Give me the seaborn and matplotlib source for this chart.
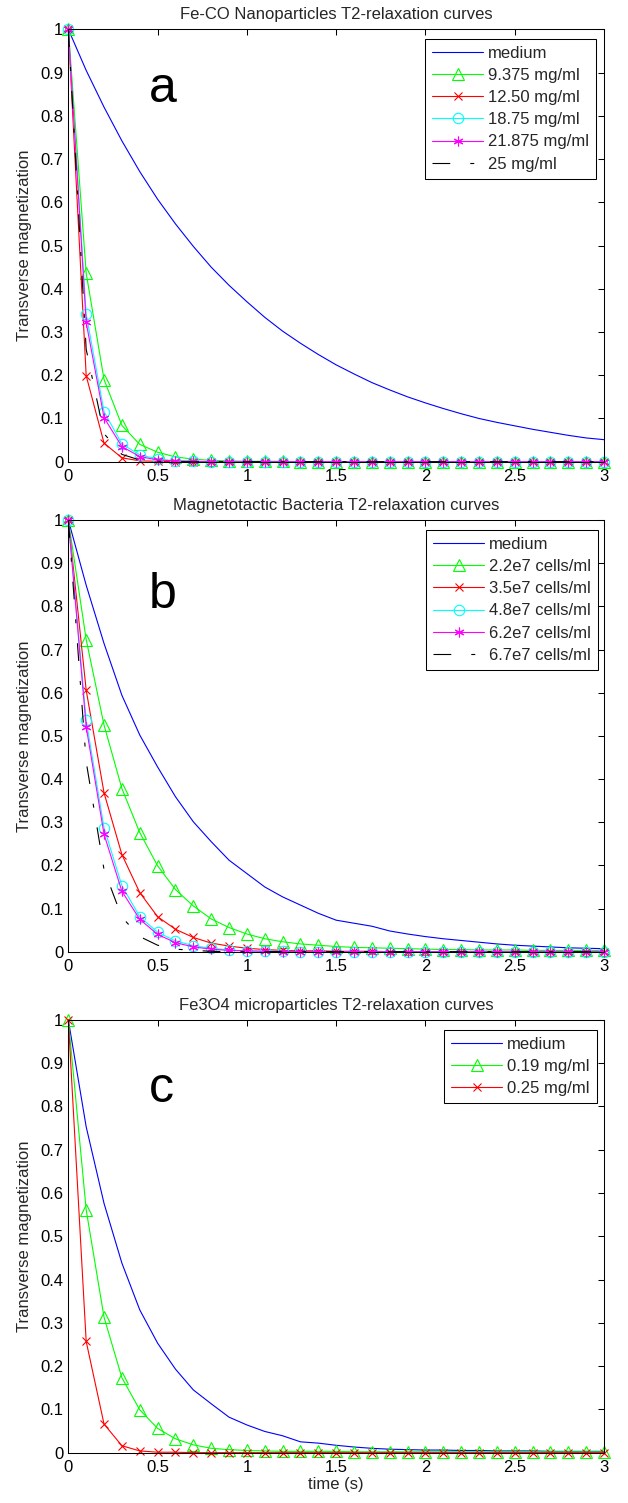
import numpy as np
import pandas as pd
import matplotlib
matplotlib.use("Agg")
import matplotlib.pyplot as plt
import seaborn as sns

# ---------------- data ----------------
time_s = [0.0, 0.1, 0.2, 0.3, 0.4, 0.5, 0.6, 0.7, 0.8, 0.9, 1.0,
          1.1, 1.2, 1.3, 1.4, 1.5, 1.6, 1.7, 1.8, 1.9, 2.0,
          2.1, 2.2, 2.3, 2.4, 2.5, 2.6, 2.7, 2.8, 2.9, 3.0]

# Panel a: Fe-CO nanoparticles
labels_a = ["medium", "9.375 mg/ml", "12.50 mg/ml", "18.75 mg/ml", "21.875 mg/ml", "25 mg/ml"]
medium_a = [1.000, 0.905, 0.820, 0.742, 0.671, 0.607, 0.550, 0.498, 0.450, 0.408, 0.370,
            0.334, 0.302, 0.274, 0.248, 0.224, 0.203, 0.183, 0.166, 0.150, 0.136,
            0.123, 0.111, 0.100, 0.091, 0.083, 0.075, 0.068, 0.061, 0.055, 0.051]
c9375_a = [1.000, 0.436, 0.190, 0.084, 0.040, 0.022, 0.011, 0.006, 0.003, 0.002, 0.001,
           0.001, 0.001, 0.000, 0.000, 0.000, 0.000, 0.000, 0.000, 0.000, 0.000,
           0.000, 0.000, 0.000, 0.000, 0.000, 0.000, 0.000, 0.000, 0.000, 0.000]
c1250_a = [1.000, 0.199, 0.043, 0.009, 0.002, 0.001, 0.000, 0.000, 0.000, 0.000, 0.000,
           0.000, 0.000, 0.000, 0.000, 0.000, 0.000, 0.000, 0.000, 0.000, 0.000,
           0.000, 0.000, 0.000, 0.000, 0.000, 0.000, 0.000, 0.000, 0.000, 0.000]
c1875_a = [1.000, 0.341, 0.116, 0.041, 0.016, 0.006, 0.002, 0.001, 0.000, 0.000, 0.000,
           0.000, 0.000, 0.000, 0.000, 0.000, 0.000, 0.000, 0.000, 0.000, 0.000,
           0.000, 0.000, 0.000, 0.000, 0.000, 0.000, 0.000, 0.000, 0.000, 0.000]
c21875_a = [1.000, 0.322, 0.102, 0.035, 0.012, 0.004, 0.002, 0.001, 0.000, 0.000, 0.000,
            0.000, 0.000, 0.000, 0.000, 0.000, 0.000, 0.000, 0.000, 0.000, 0.000,
            0.000, 0.000, 0.000, 0.000, 0.000, 0.000, 0.000, 0.000, 0.000, 0.000]
c25_a = [1.000, 0.260, 0.065, 0.017, 0.004, 0.001, 0.000, 0.000, 0.000, 0.000, 0.000,
         0.000, 0.000, 0.000, 0.000, 0.000, 0.000, 0.000, 0.000, 0.000, 0.000,
         0.000, 0.000, 0.000, 0.000, 0.000, 0.000, 0.000, 0.000, 0.000, 0.000]

# Panel b: magnetotactic bacteria
labels_b = ["medium", "2.2e7 cells/ml", "3.5e7 cells/ml", "4.8e7 cells/ml", "6.2e7 cells/ml", "6.7e7 cells/ml"]
medium_b = [1.000, 0.849, 0.714, 0.594, 0.502, 0.428, 0.359, 0.301, 0.255, 0.212, 0.181,
            0.150, 0.127, 0.108, 0.089, 0.073, 0.066, 0.059, 0.048, 0.041, 0.035,
            0.030, 0.026, 0.022, 0.018, 0.015, 0.013, 0.011, 0.009, 0.008, 0.007]
c22_b = [1.000, 0.723, 0.525, 0.378, 0.276, 0.199, 0.144, 0.106, 0.076, 0.056, 0.041,
         0.030, 0.023, 0.018, 0.015, 0.012, 0.010, 0.009, 0.008, 0.007, 0.006,
         0.005, 0.005, 0.004, 0.004, 0.004, 0.003, 0.003, 0.003, 0.003, 0.003]
c35_b = [1.000, 0.606, 0.368, 0.225, 0.137, 0.081, 0.052, 0.033, 0.020, 0.013, 0.008,
         0.005, 0.003, 0.002, 0.002, 0.001, 0.001, 0.001, 0.000, 0.000, 0.000,
         0.000, 0.000, 0.000, 0.000, 0.000, 0.000, 0.000, 0.000, 0.000, 0.000]
c48_b = [1.000, 0.536, 0.287, 0.153, 0.081, 0.045, 0.025, 0.014, 0.008, 0.004, 0.002,
         0.001, 0.001, 0.000, 0.000, 0.000, 0.000, 0.000, 0.000, 0.000, 0.000,
         0.000, 0.000, 0.000, 0.000, 0.000, 0.000, 0.000, 0.000, 0.000, 0.000]
c62_b = [1.000, 0.521, 0.272, 0.140, 0.075, 0.040, 0.021, 0.011, 0.006, 0.003, 0.002,
         0.001, 0.000, 0.000, 0.000, 0.000, 0.000, 0.000, 0.000, 0.000, 0.000,
         0.000, 0.000, 0.000, 0.000, 0.000, 0.000, 0.000, 0.000, 0.000, 0.000]
c67_b = [1.000, 0.440, 0.190, 0.080, 0.035, 0.015, 0.006, 0.003, 0.001, 0.000, 0.000,
         0.000, 0.000, 0.000, 0.000, 0.000, 0.000, 0.000, 0.000, 0.000, 0.000,
         0.000, 0.000, 0.000, 0.000, 0.000, 0.000, 0.000, 0.000, 0.000, 0.000]

# Panel c: Fe3O4 microparticles
labels_c = ["medium", "0.19 mg/ml", "0.25 mg/ml"]
medium_c = [1.000, 0.753, 0.576, 0.438, 0.330, 0.253, 0.193, 0.145, 0.113, 0.082, 0.064,
            0.049, 0.039, 0.025, 0.022, 0.017, 0.013, 0.010, 0.008, 0.007, 0.006,
            0.006, 0.005, 0.005, 0.004, 0.004, 0.004, 0.003, 0.003, 0.003, 0.003]
c019_c = [1.000, 0.561, 0.313, 0.173, 0.099, 0.056, 0.032, 0.018, 0.010, 0.007, 0.005,
          0.004, 0.003, 0.003, 0.003, 0.003, 0.002, 0.002, 0.002, 0.002, 0.002,
          0.002, 0.002, 0.002, 0.002, 0.002, 0.002, 0.002, 0.002, 0.002, 0.002]
c025_c = [1.000, 0.257, 0.066, 0.016, 0.004, 0.001, 0.001, 0.000, 0.000, 0.000, 0.000,
          0.000, 0.000, 0.000, 0.000, 0.000, 0.000, 0.000, 0.000, 0.000, 0.000,
          0.000, 0.000, 0.000, 0.000, 0.000, 0.000, 0.000, 0.000, 0.000, 0.000]

titles = ["Fe-CO Nanoparticles T2-relaxation curves",
          "Magnetotactic Bacteria T2-relaxation curves",
          "Fe3O4 microparticles T2-relaxation curves"]
panel_letters = ["a", "b", "c"]
xtick_vals = [0, 0.5, 1, 1.5, 2, 2.5, 3]
xtick_labels = ["0", "0.5", "1", "1.5", "2", "2.5", "3"]
ytick_vals = [0, 0.1, 0.2, 0.3, 0.4, 0.5, 0.6, 0.7, 0.8, 0.9, 1.0]
ytick_labels = ["0", "0.1", "0.2", "0.3", "0.4", "0.5", "0.6", "0.7", "0.8", "0.9", "1"]

# ---------------- styling ----------------
sns.set_theme(style="white")
plt.rcParams["font.family"] = ["Liberation Sans", "DejaVu Sans"]
plt.rcParams["axes.edgecolor"] = "black"
plt.rcParams["axes.linewidth"] = 0.75

LW = 0.8
styles = [
    dict(color="#0000FF", marker=None),
    dict(color="#00FF00", marker="^", markersize=8, markerfacecolor="none",
         markeredgecolor="#00FF00", markeredgewidth=0.8),
    dict(color="#FF0000", marker="x", markersize=6, markeredgecolor="#FF0000",
         markeredgewidth=0.8),
    dict(color="#00FFFF", marker="o", markersize=7.5, markerfacecolor="none",
         markeredgecolor="#00FFFF", markeredgewidth=0.8),
    dict(color="#FF00FF", marker=(6, 2, 0), markersize=7, markeredgecolor="#FF00FF",
         markeredgewidth=0.8),
    dict(color="black", marker=None, linestyle=(0, (16, 18, 3.6, 18))),
]

panels = [
    (labels_a, [medium_a, c9375_a, c1250_a, c1875_a, c21875_a, c25_a]),
    (labels_b, [medium_b, c22_b, c35_b, c48_b, c62_b, c67_b]),
    (labels_c, [medium_c, c019_c, c025_c]),
]

fig = plt.figure(figsize=(6.28, 15.03), dpi=100)
positions = [
    [0.1088, 0.6928, 0.8530, 0.2877],
    [0.1088, 0.3668, 0.8530, 0.2872],
    [0.1088, 0.0335, 0.8530, 0.2879],
]
legend_anchor = [(0.985, 0.978), (0.989, 0.977), (0.986, 0.977)]
letter_pos = [(0.151, 0.833), (0.151, 0.796), (0.151, 0.811)]

for i, (labels, series) in enumerate(panels):
    ax = fig.add_axes(positions[i])
    for j, (lab, vals) in enumerate(zip(labels, series)):
        df = pd.DataFrame({"time": time_s, "value": vals})
        st = dict(styles[j])
        color = st.pop("color")
        sns.lineplot(data=df, x="time", y="value", ax=ax, color=color,
                     linewidth=LW, label=lab, clip_on=False, zorder=3 + j, **st)
    ax.set_xlim(0, 3)
    ax.set_ylim(0, 1)
    ax.set_xticks(xtick_vals)
    ax.set_xticklabels(xtick_labels)
    ax.set_yticks(ytick_vals)
    ax.set_yticklabels(ytick_labels)
    ax.tick_params(direction="in", top=True, right=True, length=4.5, width=0.75,
                   labelsize=12, colors="black")
    ax.tick_params(axis="x", pad=5)
    ax.tick_params(axis="y", pad=3.5)
    ax.set_ylabel("Transverse magnetization", fontsize=12, labelpad=6)
    if i == 2:
        ax.set_xlabel("time (s)", fontsize=12, labelpad=2)
    else:
        ax.set_xlabel("")
    ax.set_title(titles[i], fontsize=12, pad=7.5)
    for sp in ax.spines.values():
        sp.set_color("black")
        sp.set_linewidth(0.75)
        sp.set_zorder(20)
    ax.text(letter_pos[i][0], letter_pos[i][1], panel_letters[i], transform=ax.transAxes,
            fontsize=36, ha="left", va="baseline", color="black")
    leg = ax.legend(loc="upper right", bbox_to_anchor=legend_anchor[i], borderaxespad=0,
                    frameon=True, fancybox=False, edgecolor="black", framealpha=1,
                    fontsize=12, handlelength=3.05, handletextpad=0.3,
                    labelspacing=0.43, borderpad=0.42, numpoints=1)
    leg.get_frame().set_linewidth(0.75)
    leg.set_zorder(30)

fig.savefig("out.png", dpi=100)
